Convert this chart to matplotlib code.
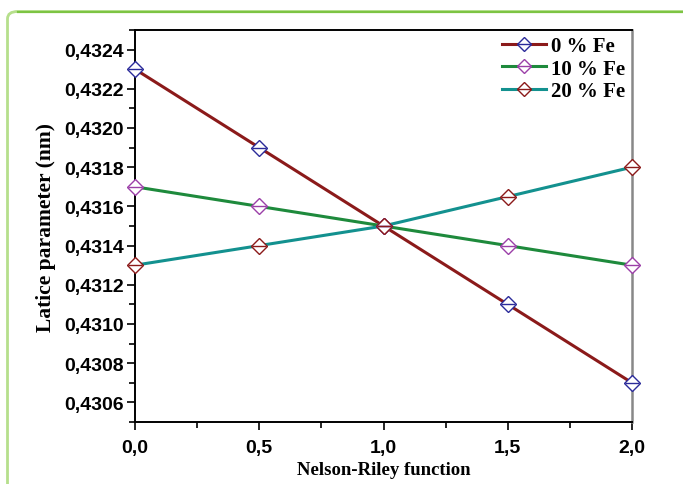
import matplotlib
matplotlib.use("Agg")
import matplotlib.pyplot as plt
from matplotlib.patches import FancyBboxPatch
from matplotlib.lines import Line2D
from matplotlib.ticker import MultipleLocator, FuncFormatter

# data
nr_function = [0.0, 0.5, 1.0, 1.5, 2.0]
fe_0 = [0.4323, 0.4319, 0.4315, 0.4311, 0.4307]
fe_10 = [0.4317, 0.4316, 0.4315, 0.4314, 0.4313]
fe_20 = [0.4313, 0.4314, 0.4315, 0.43165, 0.4318]
series_labels = ["0 % Fe", "10 % Fe", "20 % Fe"]

line_colors = ["#8B1A1A", "#1E8A3C", "#13918F"]
marker_colors = ["#2B2B9A", "#9B3FA8", "#8B1A1A"]

W, H = 683, 485
fig = plt.figure(figsize=(W / 100, H / 100), dpi=100)

# green rounded frame around the figure
frame = FancyBboxPatch((7.5 / W, -30 / H), 720 / W, (H - 12.5 + 30) / H,
                       boxstyle="round,pad=0,rounding_size=0.015",
                       transform=fig.transFigure, facecolor="none",
                       edgecolor="#B6DF8C", linewidth=2.0)
fig.patches.append(frame)
fig.add_artist(Line2D([18 / W, 1], [1 - 12.5 / H, 1 - 12.5 / H],
                      transform=fig.transFigure, color="#7DC443", lw=1.6))

ax = fig.add_axes([135 / W, 1 - 423 / H, (632 - 135) / W, (423 - 31) / H])

label_font = {"family": "Liberation Serif", "weight": "bold"}

series = [fe_0, fe_10, fe_20]
handles = []
for ys, lab, lc, mc in zip(series, series_labels, line_colors, marker_colors):
    ax.plot(nr_function, ys, color=lc, lw=2.2, zorder=2)
    ax.plot(nr_function, ys, ls="none", marker="D", ms=8, mfc="white",
            mec=mc, mew=1.0, zorder=3, clip_on=False)
    ax.plot(nr_function, ys, ls="none", marker="_", ms=10.5, mec=mc,
            mew=1.0, zorder=4, clip_on=False)
    h1 = Line2D([], [], color=lc, lw=2.2, marker="D", ms=7.5,
                mfc="white", mec=mc, mew=1.0)
    h2 = Line2D([], [], ls="none", marker="_", ms=10, mec=mc, mew=1.0)
    handles.append((h1, h2))

ax.set_xlim(0, 2)
ax.set_ylim(0.4305, 0.4325)
ax.xaxis.set_major_locator(MultipleLocator(0.5))
ax.xaxis.set_minor_locator(MultipleLocator(0.25))
ax.yaxis.set_major_locator(MultipleLocator(0.0002))
ax.yaxis.set_minor_locator(MultipleLocator(0.0001))
ax.xaxis.set_major_formatter(FuncFormatter(lambda v, p: f"{v:.1f}".replace(".", ",")))
ax.yaxis.set_major_formatter(FuncFormatter(lambda v, p: f"{v:.4f}".replace(".", ",")))

ax.tick_params(which="both", direction="out", width=1.2, top=False, right=False)
ax.tick_params(which="major", length=6)
ax.tick_params(which="minor", length=4)
for t in ax.get_xticklabels() + ax.get_yticklabels():
    t.set_fontfamily("Liberation Sans")
    t.set_fontweight("bold")
    t.set_fontsize(14)
ax.tick_params(axis="x", pad=6)
ax.tick_params(axis="y", pad=2)

for s in ["left", "bottom", "top"]:
    ax.spines[s].set_linewidth(1.4)
ax.spines["right"].set_color("#888888")
ax.spines["right"].set_linewidth(1.8)

ax.set_xlabel("Nelson-Riley function", fontsize=13.5, labelpad=4, **label_font)
ax.set_ylabel("Latice parameter (nm)", fontsize=15.5, labelpad=6, **label_font)

leg = ax.legend(handles=handles, labels=series_labels, loc="upper right",
                bbox_to_anchor=(0.99, 0.99), frameon=False,
                prop={"family": "Liberation Serif", "weight": "bold", "size": 15},
                handlelength=2.1, handletextpad=0.25, labelspacing=0.12,
                borderaxespad=0.0, borderpad=0.1)

fig.savefig("out.png", dpi=100)
